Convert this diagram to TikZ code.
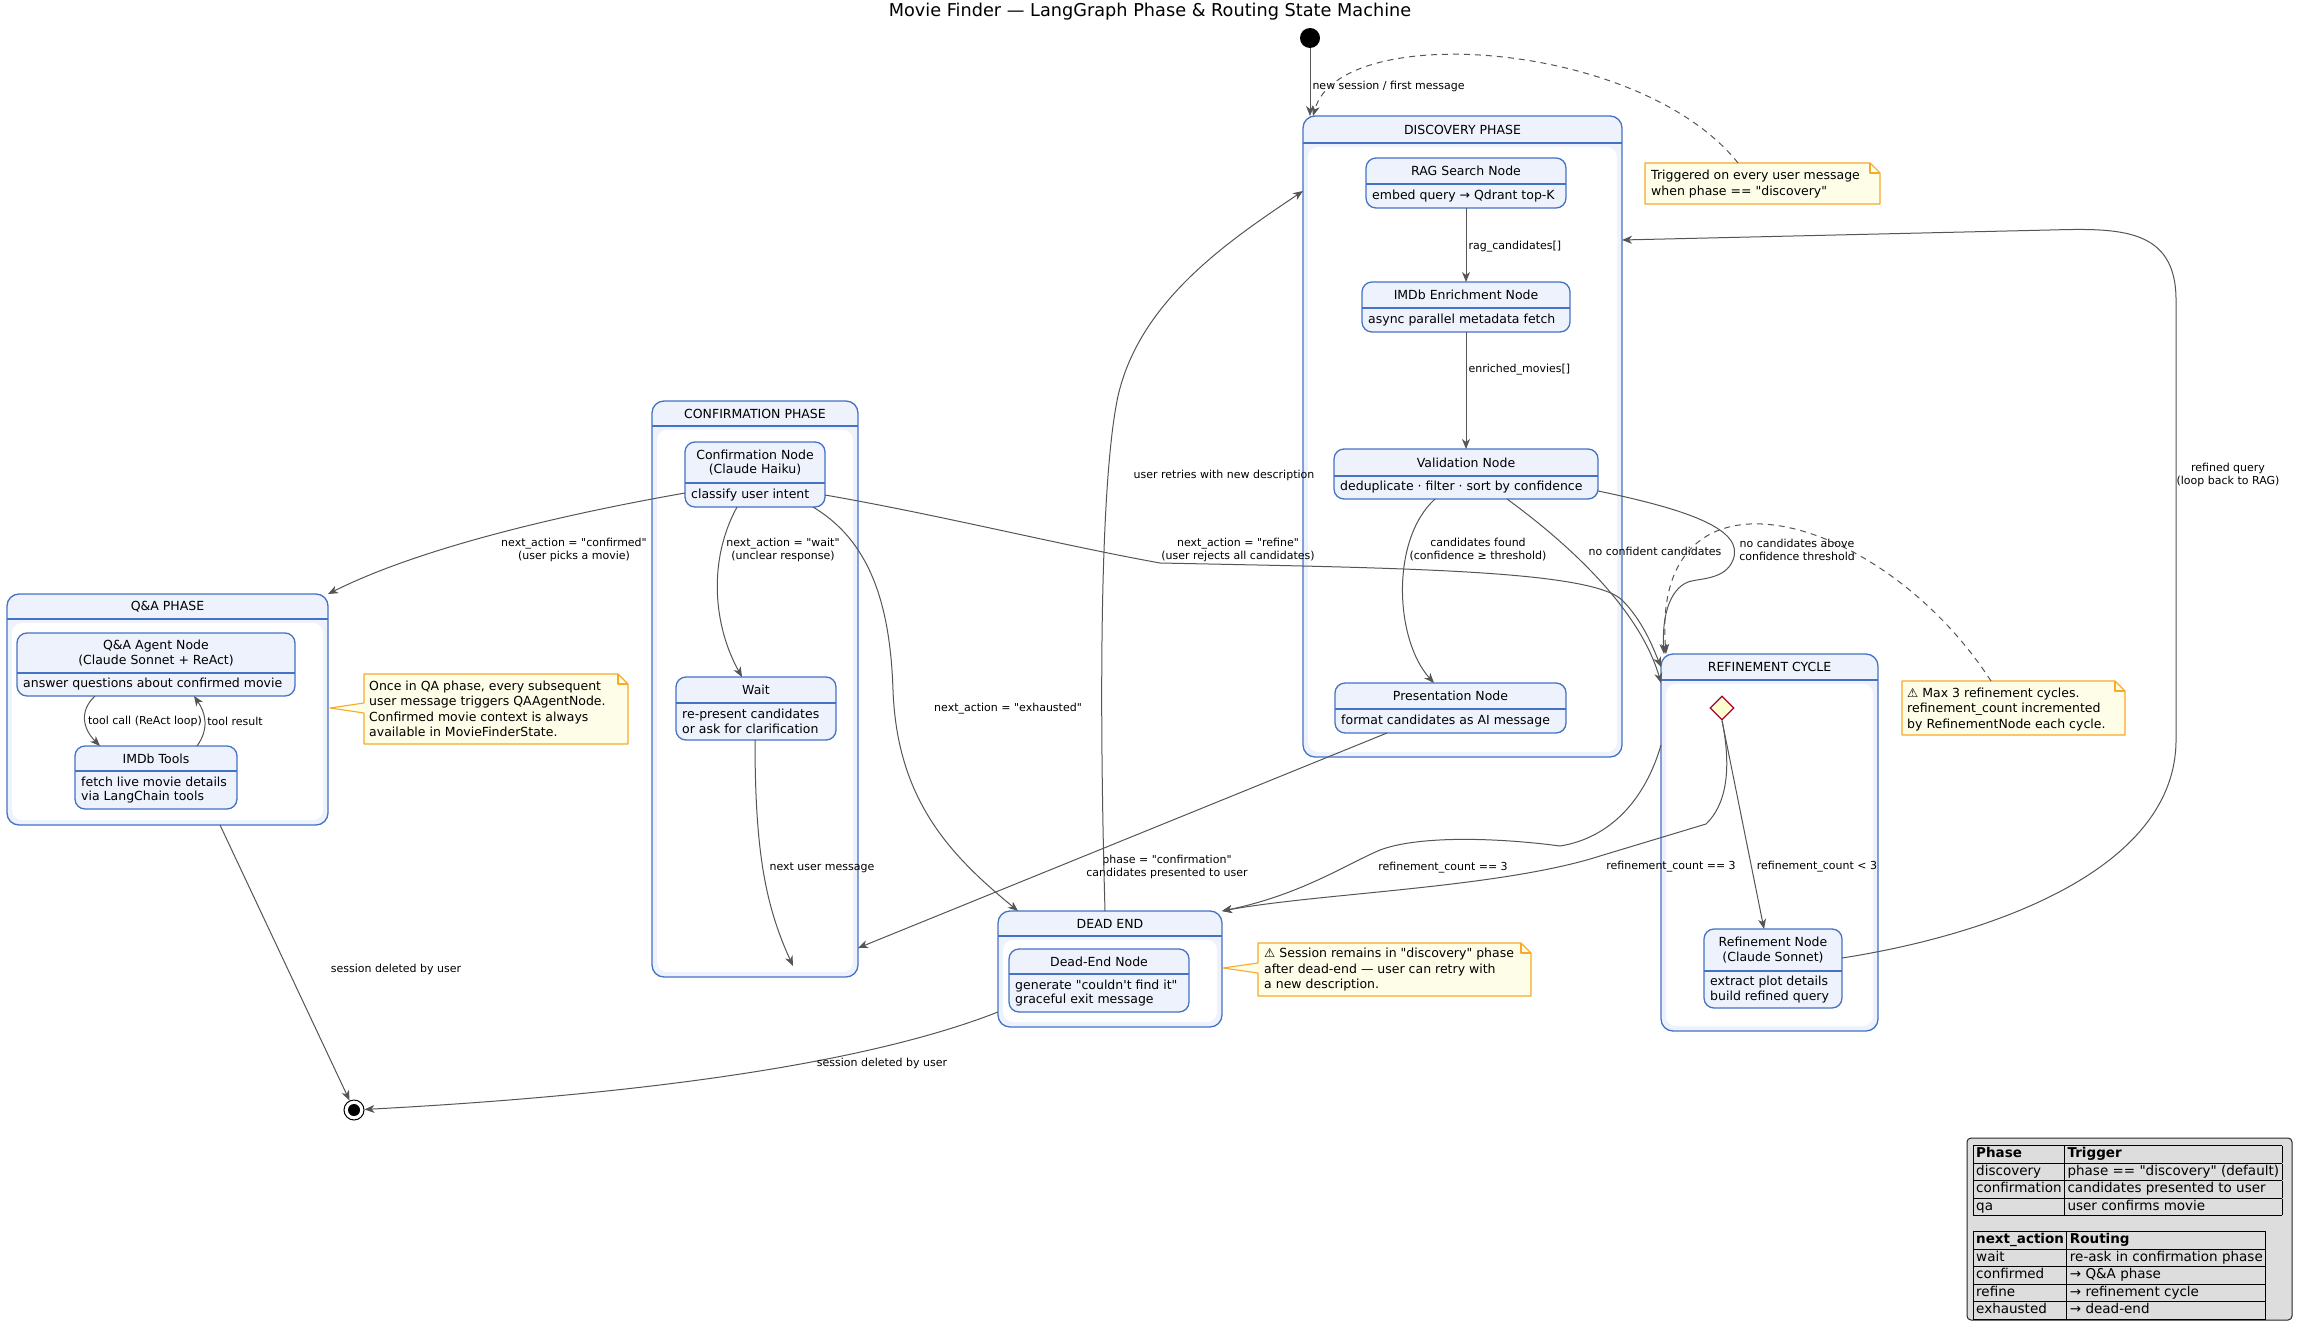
\documentclass[tikz,border=0pt]{standalone}
\usepackage{fontspec}
\setmainfont{DejaVu Sans}
\newfontfamily\dvs{DejaVu Sans}
\usetikzlibrary{arrows.meta,shapes.geometric}
\definecolor{bb}{RGB}{68,114,196}
\definecolor{bf}{RGB}{237,242,253}
\definecolor{ec}{RGB}{85,85,85}
\definecolor{nf}{RGB}{254,253,231}
\definecolor{nb}{RGB}{247,170,40}
\definecolor{df}{RGB}{254,254,206}
\definecolor{db}{RGB}{168,0,54}
\definecolor{lg}{RGB}{221,221,221}
\newcommand\fs[2]{\dvs\fontsize{#1}{#2}\selectfont}
\tikzset{
 stbox/.style={draw=bb, fill=bf, line width=1.3pt, rounded corners=10pt, inner sep=0pt, outer sep=0pt},
 cbox/.style={draw=bb, fill=bf, line width=1.3pt, rounded corners=12pt, inner sep=0pt, outer sep=0pt},
 sline/.style={draw=bb, line width=1.3pt},
 sttitle/.style={font={\fs{12.5}{14.8}}, align=center, inner sep=0pt},
 stdesc/.style={font={\fs{12.5}{14.5}}, align=left, inner sep=0pt, anchor=west},
 conn/.style={draw=ec, line width=1pt, -{Stealth[length=10pt,width=8pt,inset=3pt]}},
 dconn/.style={conn, dash pattern=on 6pt off 5pt},
 lbl/.style={font={\fs{11}{13}}, align=center, inner sep=0pt},
 notest/.style={draw=nb, fill=nf, line width=1.1pt, line join=round},
 notetxt/.style={font={\fs{12.5}{15.5}}, align=left, inner sep=0pt, anchor=west},
 noteframe/.style={inner sep=0pt, outer sep=0pt},
}
\newcommand\mkstate[8]{%
 \node[stbox, minimum width={(#4-#2)*1pt}, minimum height={(#5-#3)*1pt}] (#1) at ({(#2+#4)/2},{(#3+#5)/2}) {};
 \draw[sline] ({#2},{#6}) -- ({#4},{#6});
 \node[sttitle] (#1-t) at ({(#2+#4)/2},{(#3+#6)/2}) {#7};
 \node[stdesc] (#1-d) at ({#2+6},{(#6+#5)/2}) {#8};
}
\newcommand\mkcomp[7]{%
 \node[cbox, minimum width={(#4-#2)*1pt}, minimum height={(#5-#3)*1pt}] (#1) at ({(#2+#4)/2},{(#3+#5)/2}) {};
 \fill[white, rounded corners=10pt] ({#2+5},{#6+4}) rectangle ({#4-5},{#5-5});
 \draw[sline] ({#2},{#6}) -- ({#4},{#6});
 \node[sttitle] (#1-t) at ({(#2+#4)/2},{(#3+#6)/2}) {#7};
}
\begin{document}
\begin{tikzpicture}[x=1pt,y=-1pt]
\useasboundingbox[fill=white] (0,0) rectangle (2301,1329);

\node[font={\fs{17.7}{20}}, inner sep=0pt] (title) at (1150,12) {Movie Finder — LangGraph Phase \& Routing State Machine};

% composites
\mkcomp{disc}{1303}{116}{1622}{757}{143}{DISCOVERY PHASE}
\mkcomp{conf}{652}{401}{858}{977}{426}{CONFIRMATION PHASE}
\mkcomp{qa}{7}{594}{328}{825}{619}{Q\&A PHASE}
\mkcomp{dead}{998}{911}{1222}{1027}{936}{DEAD END}
\mkcomp{refc}{1661}{654}{1878}{1031}{680}{REFINEMENT CYCLE}

% states
\mkstate{rag}{1366}{158}{1566}{208}{184}{RAG Search Node}{embed query → Qdrant top-K}
\mkstate{enr}{1362}{282}{1570}{332}{308}{IMDb Enrichment Node}{async parallel metadata fetch}
\mkstate{val}{1334}{449}{1598}{499}{476}{Validation Node}{deduplicate · filter · sort by confidence}
\mkstate{pres}{1335}{683}{1566}{733}{709}{Presentation Node}{format candidates as AI message}
\mkstate{cnode}{685}{442}{825}{507}{483}{Confirmation Node\\(Claude Haiku)}{classify user intent}
\mkstate{wait}{676}{677}{836}{740}{703}{Wait}{re-present candidates\\or ask for clarification}
\mkstate{agent}{17}{633}{295}{696}{673}{Q\&A Agent Node\\(Claude Sonnet + ReAct)}{answer questions about confirmed movie}
\mkstate{tools}{75}{746}{237}{809}{771}{IMDb Tools}{fetch live movie details\\via LangChain tools}
\mkstate{dnode}{1009}{949}{1189}{1012}{974}{Dead-End Node}{generate "couldn\textquotesingle t find it"\\graceful exit message}
\mkstate{rnode}{1704}{929}{1842}{1008}{971}{Refinement Node\\(Claude Sonnet)}{extract plot details\\build refined query}

\node[diamond, draw=db, fill=df, line width=1.2pt, minimum width=24pt, minimum height=24pt, inner sep=0pt] (dia) at (1722,708) {};

\node[circle, fill=black, minimum size=20pt, inner sep=0pt] (start) at (1310,38) {};
\node[circle, draw=black, fill=white, line width=1pt, minimum size=20pt, inner sep=0pt] (fin) at (354,1110) {};
\node[circle, fill=black, minimum size=12pt, inner sep=0pt] (fin-in) at (354,1110) {};

% notes
\node[noteframe, minimum width=235pt, minimum height=41pt] (n1) at (1762.5,183.5) {};
\path[notest] (1645,163) -- (1870,163) -- (1880,173) -- (1880,204) -- (1645,204) -- cycle;
\draw[notest, fill=none] (1870,163) -- (1870,173) -- (1880,173);
\node[notetxt] (n1-t) at (1651,184) {Triggered on every user message\\when phase == "discovery"};

\node[noteframe, minimum width=264pt, minimum height=70pt] (n2) at (496,709) {};
\path[notest] (364,674) -- (618,674) -- (628,684) -- (628,744) -- (364,744) -- (364,713) -- (330,708) -- (364,703) -- cycle;
\draw[notest, fill=none] (618,674) -- (618,684) -- (628,684);
\node[notetxt] (n2-t) at (369,709) {Once in QA phase, every subsequent\\user message triggers QAAgentNode.\\Confirmed movie context is always\\available in MovieFinderState.};

\node[noteframe, minimum width=273pt, minimum height=53pt] (n3) at (1394.5,969.5) {};
\path[notest] (1258,943) -- (1521,943) -- (1531,953) -- (1531,996) -- (1258,996) -- (1258,973) -- (1223,968) -- (1258,963) -- cycle;
\draw[notest, fill=none] (1521,943) -- (1521,953) -- (1531,953);
\node[notetxt] (n3-t) at (1264,970) {⚠ Session remains in "discovery" phase\\after dead-end — user can retry with\\a new description.};

\node[noteframe, minimum width=223pt, minimum height=54pt] (n4) at (2013.5,708) {};
\path[notest] (1902,681) -- (2115,681) -- (2125,691) -- (2125,735) -- (1902,735) -- cycle;
\draw[notest, fill=none] (2115,681) -- (2115,691) -- (2125,691);
\node[notetxt] (n4-t) at (1907,709.5) {⚠ Max 3 refinement cycles.\\refinement\_count incremented\\by RefinementNode each cycle.};

% legend
\node[draw=black!85, fill=lg, line width=1pt, rounded corners=4pt, minimum width=325pt, minimum height=182pt, inner sep=0pt] (legend) at (2129.5,1229) {};
\node[anchor=north west, inner sep=0pt] (leg1) at (1973,1145) {\fs{13.5}{16.5}\setlength\tabcolsep{3pt}\setlength\arrayrulewidth{1pt}%
\begin{tabular}{|l|l|}\hline
\textbf{Phase} & \textbf{Trigger}\\\hline
discovery & phase == "discovery" (default)\\\hline
confirmation & candidates presented to user\\\hline
qa & user confirms movie\\\hline
\end{tabular}};
\node[anchor=north west, inner sep=0pt] (leg2) at (1973,1231) {\fs{13.5}{16.5}\setlength\tabcolsep{3pt}\setlength\arrayrulewidth{1pt}%
\begin{tabular}{|l|l|}\hline
\textbf{next\_action} & \textbf{Routing}\\\hline
wait & re-ask in confirmation phase\\\hline
confirmed & → Q\&A phase\\\hline
refine & → refinement cycle\\\hline
exhausted & → dead-end\\\hline
\end{tabular}};

% connectors
\draw[conn] (start) -- (disc.north -| start) node[lbl, anchor=west] at (1312,86) {new session / first message};
\draw[dconn] (n1.north -| 1738,0) .. controls (1640,40) and (1340,20) .. (disc.north -| 1313,0);
\draw[conn] (rag) -- (enr) node[lbl, anchor=west] at (1468,247) {rag\_candidates[]};
\draw[conn] (enr) -- (val) node[lbl, anchor=west] at (1468,370) {enriched\_movies[]};
\draw[conn] (val.south -| 1435,0) .. controls (1390,540) and (1395,640) .. (pres.north -| 1434,0) node[lbl] at (1478,550) {candidates found\\(confidence ≥ threshold)};
\draw[conn] (val.south -| 1507,0) .. controls (1570,545) and (1640,610) .. (refc.west |- 0,683) node[lbl] at (1655,551) {no confident candidates};
\draw[conn] (val.east |- 0,491) .. controls (1690,510) and (1745,530) .. (1733,560) .. controls (1725,580) and (1700,578) .. (1688,582) .. controls (1668,590) and (1662,620) .. (refc.north -| 1664,0) node[lbl] at (1797,550) {no candidates above\\confidence threshold};
\draw[dconn] (n4.north -| 1991,0) .. controls (1880,510) and (1650,450) .. (refc.north -| 1666,0);
\draw[conn] (cnode.west |- 0,493) .. controls (560,515) and (420,548) .. (qa.north east) node[lbl] at (574,550) {next\_action = "confirmed"\\(user picks a movie)};
\draw[conn] (cnode.south -| 737,0) .. controls (708,560) and (713,625) .. (wait.north -| 742,0) node[lbl] at (783,550) {next\_action = "wait"\\(unclear response)};
\coordinate (wend) at (793,966);
\draw[conn] (wait.south -| 755,0) .. controls (755,850) and (765,905) .. (wend) node[lbl] at (822,868) {next user message};
\draw[conn] (cnode.south -| 813,0) .. controls (868,540) and (890,600) .. (893,690) .. controls (897,800) and (950,855) .. (dead.north -| 1018,0) node[lbl] at (1008,709) {next\_action = "exhausted"};
\draw[conn] (cnode.east |- 0,495) .. controls (940,515) and (1060,545) .. (1160,563) .. controls (1400,568) and (1590,570) .. (1622,600) .. controls (1642,620) and (1652,645) .. (refc.west |- 0,667) node[lbl] at (1238,550) {next\_action = "refine"\\(user rejects all candidates)};
\draw[conn] (pres.south -| 1387,0) -- (conf.east |- 0,948) node[lbl] at (1167,867) {phase = "confirmation"\\candidates presented to user};
\draw[conn] (dead.north -| 1105,0) .. controls (1099,700) and (1100,480) .. (1118,396) .. controls (1140,300) and (1230,240) .. (disc.west |- 0,191) node[lbl] at (1224,475) {user retries with new description};
\draw[conn] (dead.west |- 0,1012) .. controls (850,1070) and (600,1097) .. (fin) node[lbl] at (882,1063) {session deleted by user};
\draw[conn] (qa.south -| 220,0) -- (fin) node[lbl] at (396,969) {session deleted by user};
\draw[conn] (agent.south -| 95,0) .. controls (78,712) and (84,730) .. (tools.north -| 100,0) node[lbl] at (145,721) {tool call (ReAct loop)};
\draw[conn] (tools.north -| 197,0) .. controls (210,728) and (205,712) .. (agent.south -| 194,0) node[lbl] at (235,721) {tool result};
\draw[conn] (dia.south) -- (rnode.north -| 1764,0) node[lbl] at (1817,867) {refinement\_count < 3};
\draw[conn] (dia.south) .. controls (1732,770) and (1726,805) .. (1706,824) -- (1600,856) .. controls (1500,888) and (1320,893) .. (dead.north east) node[lbl] at (1671,867) {refinement\_count == 3};
\draw[conn] (refc.west |- 0,745) .. controls (1645,800) and (1610,838) .. (1560,846) .. controls (1500,838) and (1420,835) .. (1380,850) .. controls (1345,865) and (1300,895) .. (dead.north east) node[lbl] at (1443,868) {refinement\_count == 3};
\draw[conn] (rnode.east |- 0,958) .. controls (1990,935) and (2176,870) .. (2176,740) -- (2176,300) .. controls (2176,228) and (2120,228) .. (2050,230) -- (disc.east |- 0,240) node[lbl] at (2228,475) {refined query\\(loop back to RAG)};
\end{tikzpicture}
\end{document}
